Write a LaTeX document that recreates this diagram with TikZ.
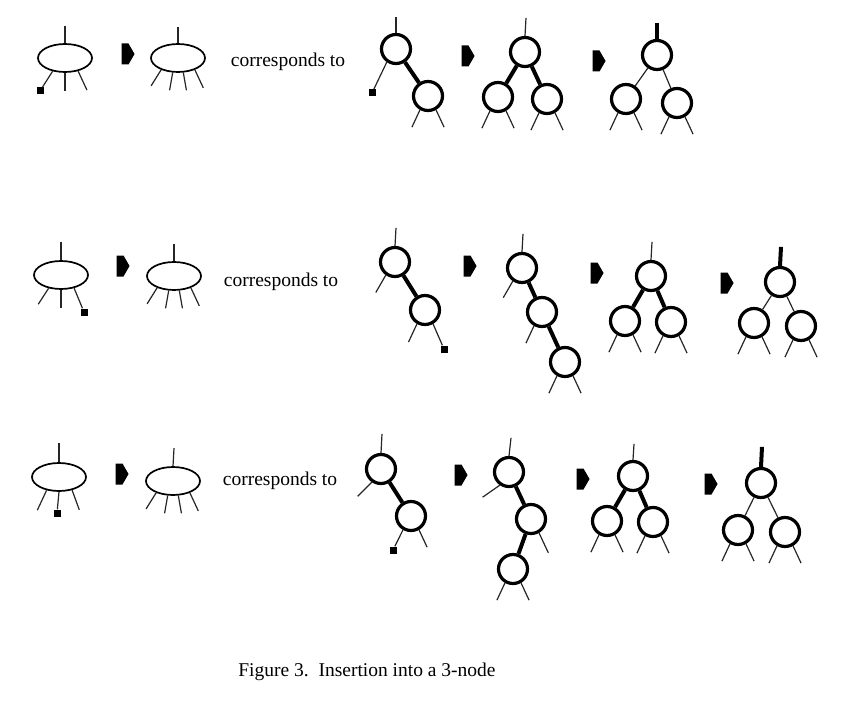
\documentclass[tikz,border=0pt]{standalone}
\usepackage{fontspec}
\setmainfont{Liberation Serif}
\usetikzlibrary{shapes.geometric,shapes.symbols}
\newcommand{\legs}[1]{\draw[leg] (#1.240) -- ++(245:19); \draw[leg] (#1.300) -- ++(295:19);}
\newcommand{\fourlegs}[1]{\draw[leg] (#1.215) -- ++(238:19); \draw[leg] (#1.250) -- ++(260:18);
  \draw[leg] (#1.290) -- ++(280:18); \draw[leg] (#1.325) -- ++(295:20);}

\begin{document}
\begin{tikzpicture}[x=1pt, y=1pt,
    knot/.style={circle, draw, line width=3.2pt, minimum size=29pt, inner sep=0pt},
    bag/.style={ellipse, draw, line width=1.7pt, minimum width=54pt, minimum height=28pt, inner sep=0pt},
    leaf/.style={rectangle, fill, minimum size=7pt, inner sep=0pt},
    goes/.style={signal, signal to=east, signal pointer angle=120, fill, minimum width=13pt, minimum height=21pt, inner sep=0pt},
    leg/.style={line width=1.2pt, black!85},
    tie/.style={line width=4pt},
    txt/.style={font=\fontsize{19.5}{22}\selectfont}]
    \useasboundingbox (0,0) rectangle (848,-706);

    % first row
    \node[bag] (ea) at (65,-58) {};
    \node[leaf] (qa) at (40,-91) {};
    \draw[leg] (ea.north) -- ++(0,17);
    \draw[leg] (ea.227) -- (qa);
    \draw[leg] (ea.270) -- ++(270:18);
    \draw[leg] (ea.315) -- ++(295:21);
    \node[goes] (ga1) at (125,-54) {};
    \node[bag] (fa) at (178,-58) {};
    \draw[leg] (fa.north) -- ++(0,16);
    \fourlegs{fa}
    \node[txt] (ta) at (288,-62) {corresponds to};

    \node[knot] (a1) at (396,-49) {};
    \node[knot] (a2) at (428,-96) {};
    \node[leaf] (qa2) at (372,-93) {};
    \draw[leg] (a1.north) -- ++(0,16);
    \draw[tie] (a1) -- (a2);
    \draw[leg] (a1.235) -- (qa2);
    \legs{a2}
    \node[goes] (ga2) at (465,-56) {};
    \node[knot] (b1) at (525,-52) {};
    \node[knot] (b2) at (498,-97) {};
    \node[knot] (b3) at (547,-99) {};
    \draw[leg] (b1.north) -- ++(1,18);
    \draw[tie] (b1) -- (b2);
    \draw[tie] (b1) -- (b3);
    \legs{b2} \legs{b3}
    \node[goes] (ga3) at (596,-61) {};
    \node[knot] (c1) at (657,-55) {};
    \node[knot] (c2) at (626,-99) {};
    \node[knot] (c3) at (677,-103) {};
    \draw[tie] (c1.north) -- ++(0,16);
    \draw[leg] (c1) -- (c2);
    \draw[leg] (c1) -- (c3);
    \legs{c2} \legs{c3}

    % second row
    \node[bag] (eb) at (61,-275) {};
    \node[leaf] (qb) at (84,-312) {};
    \draw[leg] (eb.north) -- ++(0,18);
    \draw[leg] (eb.227) -- ++(237:19);
    \draw[leg] (eb.270) -- ++(270:18);
    \draw[leg] (eb.315) -- (qb);
    \node[goes] (gb1) at (120,-266) {};
    \node[bag] (fb) at (174,-276) {};
    \draw[leg] (fb.north) -- ++(0,17);
    \fourlegs{fb}
    \node[txt] (tb) at (281,-282) {corresponds to};

    \node[knot] (d1) at (395,-262) {};
    \node[knot] (d2) at (425,-310) {};
    \node[leaf] (qb2) at (444,-349) {};
    \draw[leg] (d1.north) -- ++(1,18);
    \draw[tie] (d1) -- (d2);
    \draw[leg] (d1.235) -- ++(240:20);
    \draw[leg] (d2.240) -- ++(245:20);
    \draw[leg] (d2.300) -- (qb2);
    \node[goes] (gb2) at (467,-266) {};
    \node[knot] (e1) at (522,-268) {};
    \node[knot] (e2) at (542,-312) {};
    \node[knot] (e3) at (565,-362) {};
    \draw[leg] (e1.north) -- ++(1,18);
    \draw[tie] (e1) -- (e2);
    \draw[tie] (e2) -- (e3);
    \draw[leg] (e1.235) -- ++(240:19);
    \draw[leg] (e2.240) -- ++(245:19);
    \legs{e3}
    \node[goes] (gb3) at (594,-273) {};
    \node[knot] (h1) at (651,-276) {};
    \node[knot] (h2) at (625,-321) {};
    \node[knot] (h3) at (671,-322) {};
    \draw[leg] (h1.north) -- ++(1,18);
    \draw[tie] (h1) -- (h2);
    \draw[tie] (h1) -- (h3);
    \legs{h2} \legs{h3}
    \node[goes] (gb4) at (724,-283) {};
    \node[knot] (k1) at (780,-282) {};
    \node[knot] (k2) at (754,-323) {};
    \node[knot] (k3) at (801,-326) {};
    \draw[tie] (k1.north) -- ++(1,19);
    \draw[leg] (k1) -- (k2);
    \draw[leg] (k1) -- (k3);
    \legs{k2} \legs{k3}

    % third row
    \node[bag] (ec) at (59,-477) {};
    \node[leaf] (qc) at (57,-513) {};
    \draw[leg] (ec.north) -- ++(0,19);
    \draw[leg] (ec.227) -- ++(245:22);
    \draw[leg] (ec.270) -- (qc);
    \draw[leg] (ec.315) -- ++(290:21);
    \node[goes] (gc1) at (119,-474) {};
    \node[bag] (fc) at (173,-481) {};
    \draw[leg] (fc.north) -- ++(1,18);
    \fourlegs{fc}
    \node[txt] (tc) at (280,-481) {corresponds to};

    \node[knot] (m1) at (381,-469) {};
    \node[knot] (m2) at (411,-516) {};
    \node[leaf] (qc2) at (393,-550) {};
    \draw[leg] (m1.north) -- ++(1,19);
    \draw[tie] (m1) -- (m2);
    \draw[leg] (m1.235) -- ++(225:20);
    \draw[leg] (m2.240) -- (qc2);
    \draw[leg] (m2.300) -- ++(295:19);
    \node[goes] (gc2) at (458,-475) {};
    \node[knot] (n1) at (509,-472) {};
    \node[knot] (n2) at (531,-519) {};
    \node[knot] (n3) at (513,-569) {};
    \draw[leg] (n1.north) -- ++(2,18);
    \draw[tie] (n1) -- (n2);
    \draw[tie] (n2) -- (n3);
    \draw[leg] (n1.235) -- ++(215:21);
    \draw[leg] (n2.300) -- ++(295:22);
    \legs{n3}
    \node[goes] (gc3) at (580,-479) {};
    \node[knot] (p1) at (633,-476) {};
    \node[knot] (p2) at (607,-521) {};
    \node[knot] (p3) at (653,-522) {};
    \draw[leg] (p1.north) -- ++(1,16);
    \draw[tie] (p1) -- (p2);
    \draw[tie] (p1) -- (p3);
    \legs{p2} \legs{p3}
    \node[goes] (gc4) at (708,-484) {};
    \node[knot] (r1) at (761,-483) {};
    \node[knot] (r2) at (738,-530) {};
    \node[knot] (r3) at (785,-532) {};
    \draw[tie] (r1.north) -- ++(1,20);
    \draw[leg] (r1) -- (r2);
    \draw[leg] (r1) -- (r3);
    \legs{r2} \legs{r3}

    \node[txt] (cap) at (367,-672) {Figure 3.\ \ Insertion into a 3-node};
\end{tikzpicture}
\end{document}
